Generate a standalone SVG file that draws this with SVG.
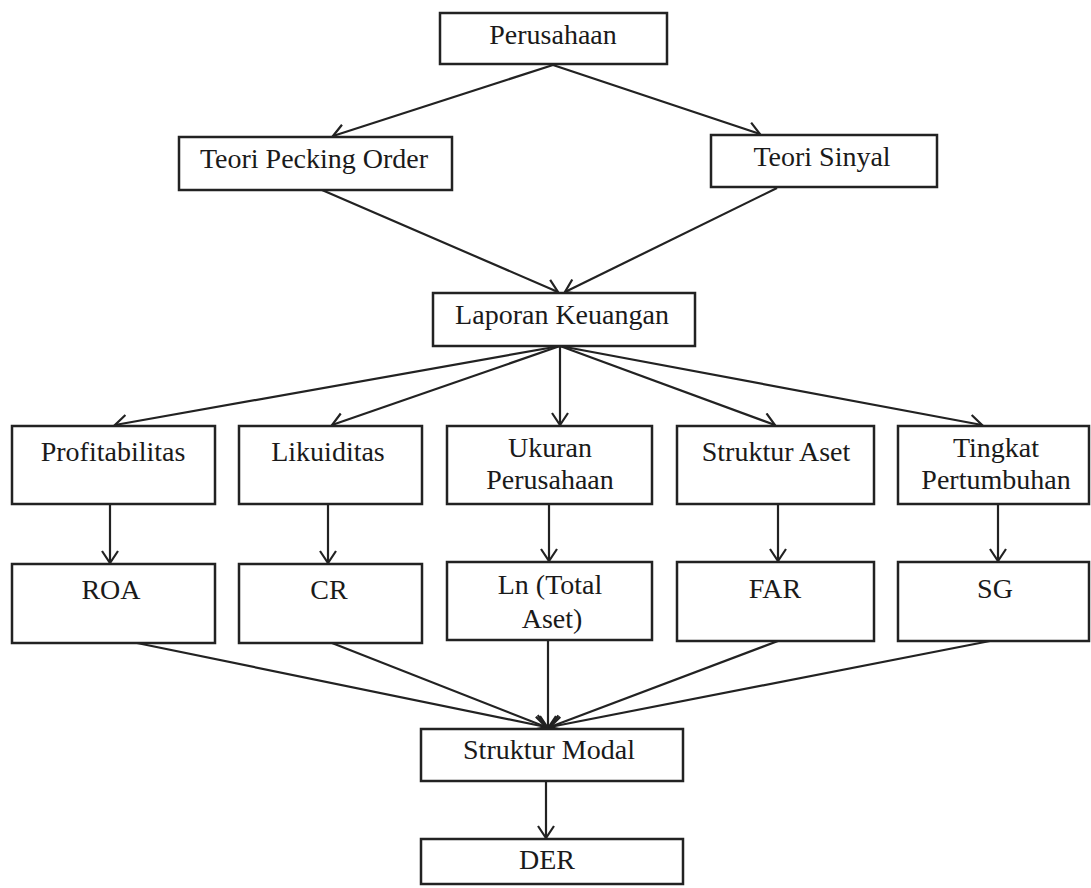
<svg xmlns="http://www.w3.org/2000/svg" width="1091" height="888" viewBox="0 0 1091 888">
<style>
.box{fill:#fff;stroke:#222;stroke-width:2.5}
.t{font-family:"Liberation Serif","Times New Roman",serif;font-size:28px;fill:#1a1a1a;text-anchor:middle}
.e{stroke:#222;stroke-width:2.2;fill:none;marker-end:url(#arr)}
</style>
<defs>
<marker id="arr" markerUnits="userSpaceOnUse" markerWidth="18" markerHeight="20" refX="13" refY="9" orient="auto">
<path d="M1,1 L13,9 L1,17" fill="none" stroke="#222" stroke-width="2.2"/>
</marker>
</defs>
<rect width="1091" height="888" fill="#fff"/>
<g id="connectors">
<line class="e" x1="553" y1="65" x2="333" y2="136"/>
<line class="e" x1="553" y1="65" x2="760" y2="134"/>
<line class="e" x1="322" y1="190" x2="558" y2="292"/>
<line class="e" x1="777" y1="188" x2="565" y2="292"/>
<line class="e" x1="560" y1="346" x2="115" y2="425"/>
<line class="e" x1="560" y1="346" x2="332" y2="425"/>
<line class="e" x1="560" y1="346" x2="560" y2="425"/>
<line class="e" x1="560" y1="346" x2="775" y2="425"/>
<line class="e" x1="560" y1="346" x2="982" y2="425"/>
<line class="e" x1="110" y1="504" x2="110" y2="563"/>
<line class="e" x1="328" y1="504" x2="328" y2="563"/>
<line class="e" x1="549" y1="504" x2="549" y2="561"/>
<line class="e" x1="778" y1="504" x2="778" y2="561"/>
<line class="e" x1="998" y1="504" x2="998" y2="561"/>
<line class="e" x1="137" y1="643" x2="546" y2="727"/>
<line class="e" x1="332" y1="643" x2="546" y2="727"/>
<line class="e" x1="548" y1="641" x2="548" y2="728"/>
<line class="e" x1="778" y1="641" x2="550" y2="727"/>
<line class="e" x1="990" y1="641" x2="550" y2="727"/>
<line class="e" x1="546" y1="781" x2="546" y2="838"/>
</g>
<g id="perusahaan"><rect class="box" x="440" y="13" width="227" height="51"/><text class="t" x="553" y="44">Perusahaan</text></g>
<g id="pecking"><rect class="box" x="179" y="137" width="273" height="53"/><text class="t" x="314" y="168">Teori Pecking Order</text></g>
<g id="sinyal"><rect class="box" x="711" y="135" width="226" height="52"/><text class="t" x="822" y="166">Teori Sinyal</text></g>
<g id="laporan"><rect class="box" x="433" y="293" width="262" height="53"/><text class="t" x="562" y="324">Laporan Keuangan</text></g>
<g id="profitabilitas"><rect class="box" x="12" y="426" width="203" height="78"/><text class="t" x="113" y="461">Profitabilitas</text></g>
<g id="likuiditas"><rect class="box" x="239" y="426" width="183" height="78"/><text class="t" x="328" y="461">Likuiditas</text></g>
<g id="ukuran"><rect class="box" x="447" y="426" width="205" height="78"/><text class="t" x="550" y="457">Ukuran</text><text class="t" x="550" y="489">Perusahaan</text></g>
<g id="struktur-aset"><rect class="box" x="677" y="426" width="197" height="78"/><text class="t" x="776" y="461">Struktur Aset</text></g>
<g id="tingkat"><rect class="box" x="898" y="426" width="191" height="78"/><text class="t" x="996" y="457">Tingkat</text><text class="t" x="996" y="489">Pertumbuhan</text></g>
<g id="roa"><rect class="box" x="12" y="564" width="203" height="79"/><text class="t" x="111" y="599">ROA</text></g>
<g id="cr"><rect class="box" x="239" y="564" width="183" height="79"/><text class="t" x="329" y="599">CR</text></g>
<g id="ln"><rect class="box" x="447" y="562" width="205" height="78"/><text class="t" x="550" y="594">Ln (Total</text><text class="t" x="552" y="628">Aset)</text></g>
<g id="far"><rect class="box" x="677" y="562" width="197" height="79"/><text class="t" x="775" y="598">FAR</text></g>
<g id="sg"><rect class="box" x="898" y="562" width="191" height="79"/><text class="t" x="995" y="598">SG</text></g>
<g id="struktur-modal"><rect class="box" x="421" y="729" width="262" height="52"/><text class="t" x="549" y="759">Struktur Modal</text></g>
<g id="der"><rect class="box" x="421" y="839" width="262" height="45"/><text class="t" x="547" y="869">DER</text></g>
</svg>
